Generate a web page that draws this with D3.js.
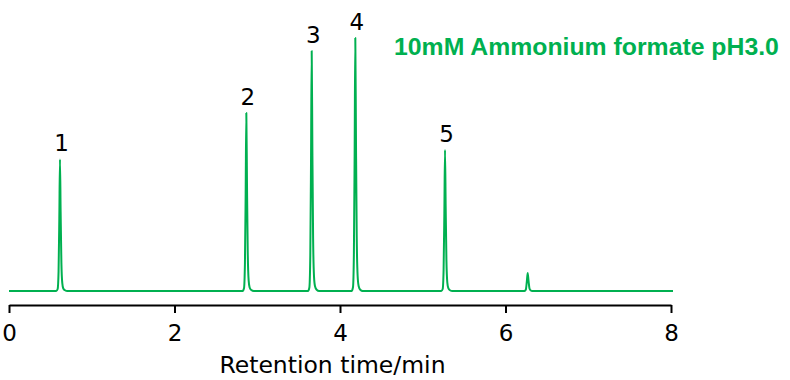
<!DOCTYPE html>
<html>
<head>
<meta charset="utf-8">
<script src="https://cdn.jsdelivr.net/npm/d3@7"></script>
<style>
  html, body { margin: 0; padding: 0; background: #fff; }
  svg { display: block; }
</style>
</head>
<body>
<svg id="chart" width="790" height="380"></svg>
<script>
// ---- data ----
const xTicks = [0, 2, 4, 6, 8];
const xLabel = "Retention time/min";
const title = "10mM Ammonium formate pH3.0";

const peakLabels = ["1", "2", "3", "4", "5"];
const peakTimes = [0.616, 2.868, 3.658, 4.185, 5.269];
const peakHeights = [52.0, 70.4, 94.9, 100.0, 55.7];

// chromatogram trace (retention time in min, signal in relative units)
const traceTime = [
  0.000,
  0.571, 0.588, 0.599, 0.608, 0.616, 0.624, 0.633, 0.644, 0.656, 0.676, 0.706,
  2.823, 2.840, 2.851, 2.860, 2.868, 2.876, 2.885, 2.896, 2.908, 2.928, 2.958,
  3.613, 3.630, 3.641, 3.650, 3.658, 3.666, 3.675, 3.686, 3.698, 3.718, 3.748,
  4.140, 4.157, 4.168, 4.177, 4.185, 4.193, 4.202, 4.213, 4.225, 4.245, 4.275,
  5.224, 5.241, 5.252, 5.261, 5.269, 5.277, 5.286, 5.297, 5.309, 5.329, 5.359,
  6.230, 6.246, 6.257, 6.268, 6.279, 6.290, 6.306, 6.322,
  8.024
];
const traceSignal = [
  0,
  0, 0.8, 7.8, 28.6, 52.0, 31.2, 11.4, 3.1, 1.0, 0.3, 0,
  0, 1.1, 10.6, 38.7, 70.4, 42.2, 15.5, 4.2, 1.4, 0.4, 0,
  0, 1.4, 14.2, 52.2, 94.9, 56.9, 20.9, 5.7, 1.9, 0.5, 0,
  0, 1.5, 15.0, 55.0, 100.0, 60.0, 22.0, 6.0, 2.0, 0.5, 0,
  0, 0.8, 8.4, 30.6, 55.7, 33.4, 12.3, 3.3, 1.1, 0.3, 0,
  0, 0.6, 3.5, 7.1, 3.8, 1.0, 0.2, 0,
  0
];

// ---- drawing ----
const svg = d3.select("#chart");
const green = "#00b050";

const x = d3.scaleLinear().domain([0, 8]).range([9, 671]);
const y = d3.scaleLinear().domain([0, 100]).range([291, 38]);

const trace = traceTime.map((t, i) => [t, traceSignal[i]]);

svg.append("path")
  .datum(trace)
  .attr("fill", "none")
  .attr("stroke", green)
  .attr("stroke-width", 2)
  .attr("stroke-linejoin", "round")
  .attr("d", d3.line().x(d => x(d[0])).y(d => y(d[1])).curve(d3.curveMonotoneX));

// axis
const axis = d3.axisBottom(x)
  .tickValues(xTicks)
  .tickFormat(d3.format("d"))
  .tickSizeInner(8)
  .tickSizeOuter(0)
  .tickPadding(12);

const gx = svg.append("g")
  .attr("transform", "translate(0,305)")
  .call(axis);
gx.select(".domain").attr("stroke", "#000").attr("stroke-width", 2);
gx.selectAll(".tick line").attr("stroke", "#000").attr("stroke-width", 2);
gx.selectAll(".tick text")
  .attr("fill", "#000")
  .style("font-family", "'DejaVu Sans', sans-serif")
  .style("font-size", "23px");

svg.append("text")
  .attr("x", 332.5)
  .attr("y", 373)
  .attr("text-anchor", "middle")
  .style("font-family", "'DejaVu Sans', sans-serif")
  .style("font-size", "23.5px")
  .attr("fill", "#000")
  .text(xLabel);

// peak labels
svg.selectAll(".plabel")
  .data(peakLabels)
  .enter().append("text")
  .attr("class", "plabel")
  .attr("x", (d, i) => x(peakTimes[i]) + 1.5)
  .attr("y", (d, i) => y(peakHeights[i]) - 8)
  .attr("text-anchor", "middle")
  .style("font-family", "'DejaVu Sans', sans-serif")
  .style("font-size", "23px")
  .attr("fill", "#000")
  .text(d => d);

// title
svg.append("text")
  .attr("x", 394)
  .attr("y", 55)
  .style("font-family", "'Liberation Sans', Arial, sans-serif")
  .style("font-weight", "bold")
  .style("font-size", "24.8px")
  .attr("fill", green)
  .text(title);
</script>
</body>
</html>
